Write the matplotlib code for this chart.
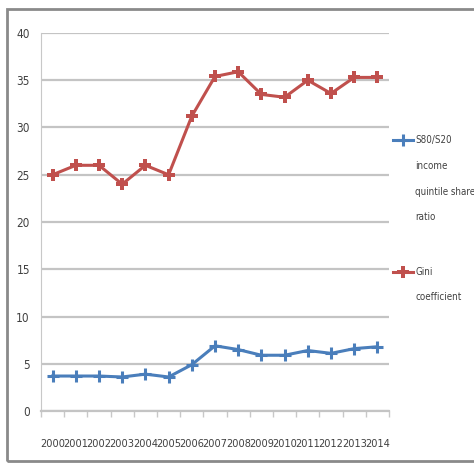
import matplotlib
matplotlib.use("Agg")
import matplotlib.pyplot as plt
from matplotlib.lines import Line2D
from matplotlib.patches import Rectangle

years = ["2000", "2001", "2002", "2003", "2004", "2005", "2006", "2007",
         "2008", "2009", "2010", "2011", "2012", "2013", "2014"]
s80_s20 = [3.7, 3.7, 3.7, 3.6, 3.9, 3.6, 4.9, 6.9, 6.5, 5.9, 5.9, 6.4, 6.1, 6.6, 6.8]
gini = [25.0, 26.0, 26.0, 24.0, 26.0, 25.0, 31.2, 35.4, 35.9, 33.5, 33.2, 35.0, 33.6, 35.3, 35.3]
yticks = [0, 5, 10, 15, 20, 25, 30, 35, 40]

plt.rcParams["font.family"] = ["DejaVu Sans", "Liberation Sans"]
plt.rcParams["font.stretch"] = "condensed"

W, H = 474, 463
fig = plt.figure(figsize=(W / 100, H / 100), dpi=100)
ax = fig.add_axes([41 / W, 1 - 411 / H, (389 - 41) / W, (411 - 33) / H])

blue = "#4a7ebb"
red = "#c0504d"
x = list(range(len(years)))
ax.plot(x, s80_s20, color=blue, lw=2.2, marker="+", ms=9, mew=2.2, zorder=3)
ax.plot(x, gini, color=red, lw=2.2, marker="P", ms=8, mew=0, zorder=3)

ax.set_xlim(-0.5, len(years) - 0.5)
ax.set_ylim(0, 40)
ax.set_yticks(yticks)
ax.set_yticklabels([str(v) for v in yticks], fontsize=8.5, color="#404040")
ax.set_xticks(x)
ax.set_xticklabels(years, fontsize=7.8, color="#404040")
ax.tick_params(axis="x", length=0, pad=20)
ax.tick_params(axis="y", length=0, pad=8)
ax.set_xticks([i - 0.5 for i in range(len(years) + 1)], minor=True)
ax.tick_params(axis="x", which="minor", length=4, color="#c8c8c8", width=1)
ax.grid(axis="y", color="#c4c4c4", lw=1.6)
ax.set_axisbelow(True)
for s in ["top", "right"]:
    ax.spines[s].set_visible(False)
ax.spines["left"].set_color("#c8c8c8")
ax.spines["bottom"].set_color("#c4c4c4")
ax.spines["bottom"].set_linewidth(1.6)

# outer border
fig.add_artist(Rectangle((7 / W, 1 - 461 / H), 1.0, (461 - 9) / H,
                         transform=fig.transFigure, fill=False,
                         edgecolor="#8a8a8a", lw=2))

# legend (manual)
def fy(p):
    return 1 - p / H

fig.add_artist(Line2D([393 / W, 403 / W, 413 / W], [fy(140)] * 3, color=blue, lw=2.2,
                      marker="+", ms=9, mew=2.2, markevery=[1],
                      transform=fig.transFigure))
fig.add_artist(Line2D([393 / W, 403 / W, 413 / W], [fy(272)] * 3, color=red, lw=2.2,
                      marker="P", ms=8, mew=0, markevery=[1],
                      transform=fig.transFigure))
for txt, py in [("S80/S20", 140), ("income", 166), ("quintile share", 192), ("ratio", 217)]:
    fig.text(415 / W, fy(py), txt, fontsize=7, color="#404040", va="center", ha="left")
for txt, py in [("Gini", 272), ("coefficient", 297)]:
    fig.text(415 / W, fy(py), txt, fontsize=7, color="#404040", va="center", ha="left")

fig.savefig("out.png", dpi=100)
